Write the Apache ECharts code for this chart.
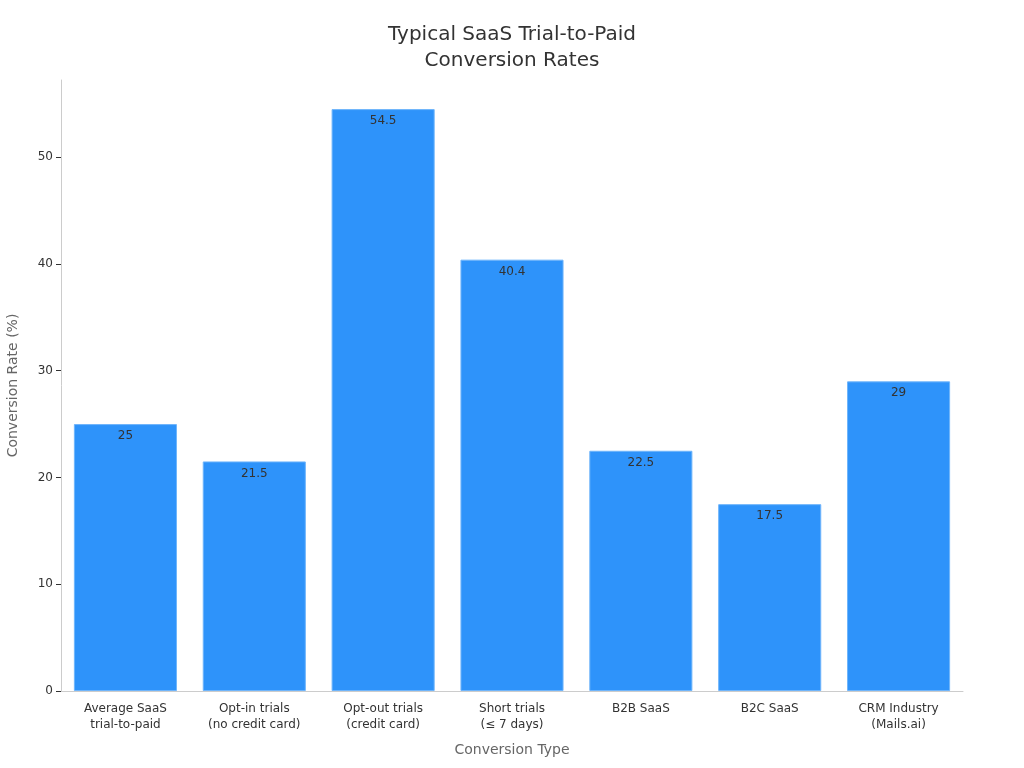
<!DOCTYPE html>
<html><head><meta charset="utf-8">
<script src="https://cdn.jsdelivr.net/npm/echarts@6/dist/echarts.min.js"></script>
<style>html,body{margin:0;padding:0;background:#fff}#c{width:1024px;height:768px}</style>
</head><body><div id="c"></div>
<script>
const categories = ["Average SaaS\ntrial-to-paid","Opt-in trials\n(no credit card)","Opt-out trials\n(credit card)","Short trials\n(≤ 7 days)","B2B SaaS","B2C SaaS","CRM Industry\n(Mails.ai)"];
const values = [25, 21.5, 54.5, 40.4, 22.5, 17.5, 29];
const yTicks = [0, 10, 20, 30, 40, 50];
const font = "DejaVu Sans";
const chart = echarts.init(document.getElementById('c'));
chart.setOption({
  animation: false,
  textStyle: {fontFamily: font},
  title: {text: "Typical SaaS Trial-to-Paid\nConversion Rates", left: 'center', top: 17,
    textStyle: {fontFamily: font, fontSize: 20, fontWeight: 'normal', color: '#333', lineHeight: 26}},
  grid: {left: 61, right: 61, top: 80, bottom: 77, containLabel: false, outerBoundsMode: 'none'},
  xAxis: {type: 'category', data: categories,
    name: "Conversion Type", nameLocation: 'middle', nameGap: 52,
    nameTextStyle: {fontFamily: font, fontSize: 14, color: '#666'},
    axisLine: {lineStyle: {color: '#ccc'}},
    axisTick: {alignWithLabel: true, lineStyle: {color: '#333'}, length: 5},
    axisLabel: {fontFamily: font, fontSize: 12, color: '#333', lineHeight: 16, margin: 10, interval: 0}},
  yAxis: {type: 'value', min: 0, max: 57.225, interval: 10,
    name: "Conversion Rate (%)", nameLocation: 'middle', nameGap: 41,
    nameTextStyle: {fontFamily: font, fontSize: 14, color: '#666'},
    axisLine: {show: true, lineStyle: {color: '#ccc'}},
    axisTick: {show: true, lineStyle: {color: '#333'}, length: 5, customValues: yTicks},
    splitLine: {show: false},
    axisLabel: {fontFamily: font, fontSize: 12, color: '#333', margin: 8, customValues: yTicks}},
  series: [{type: 'bar', data: values, barCategoryGap: '20%',
    itemStyle: {color: '#2E93FA', borderColor: '#6FB5FB', borderWidth: 1},
    label: {show: true, position: 'insideTop', distance: 6, fontFamily: font, fontSize: 12, color: '#333'}}]
});
</script></body></html>
